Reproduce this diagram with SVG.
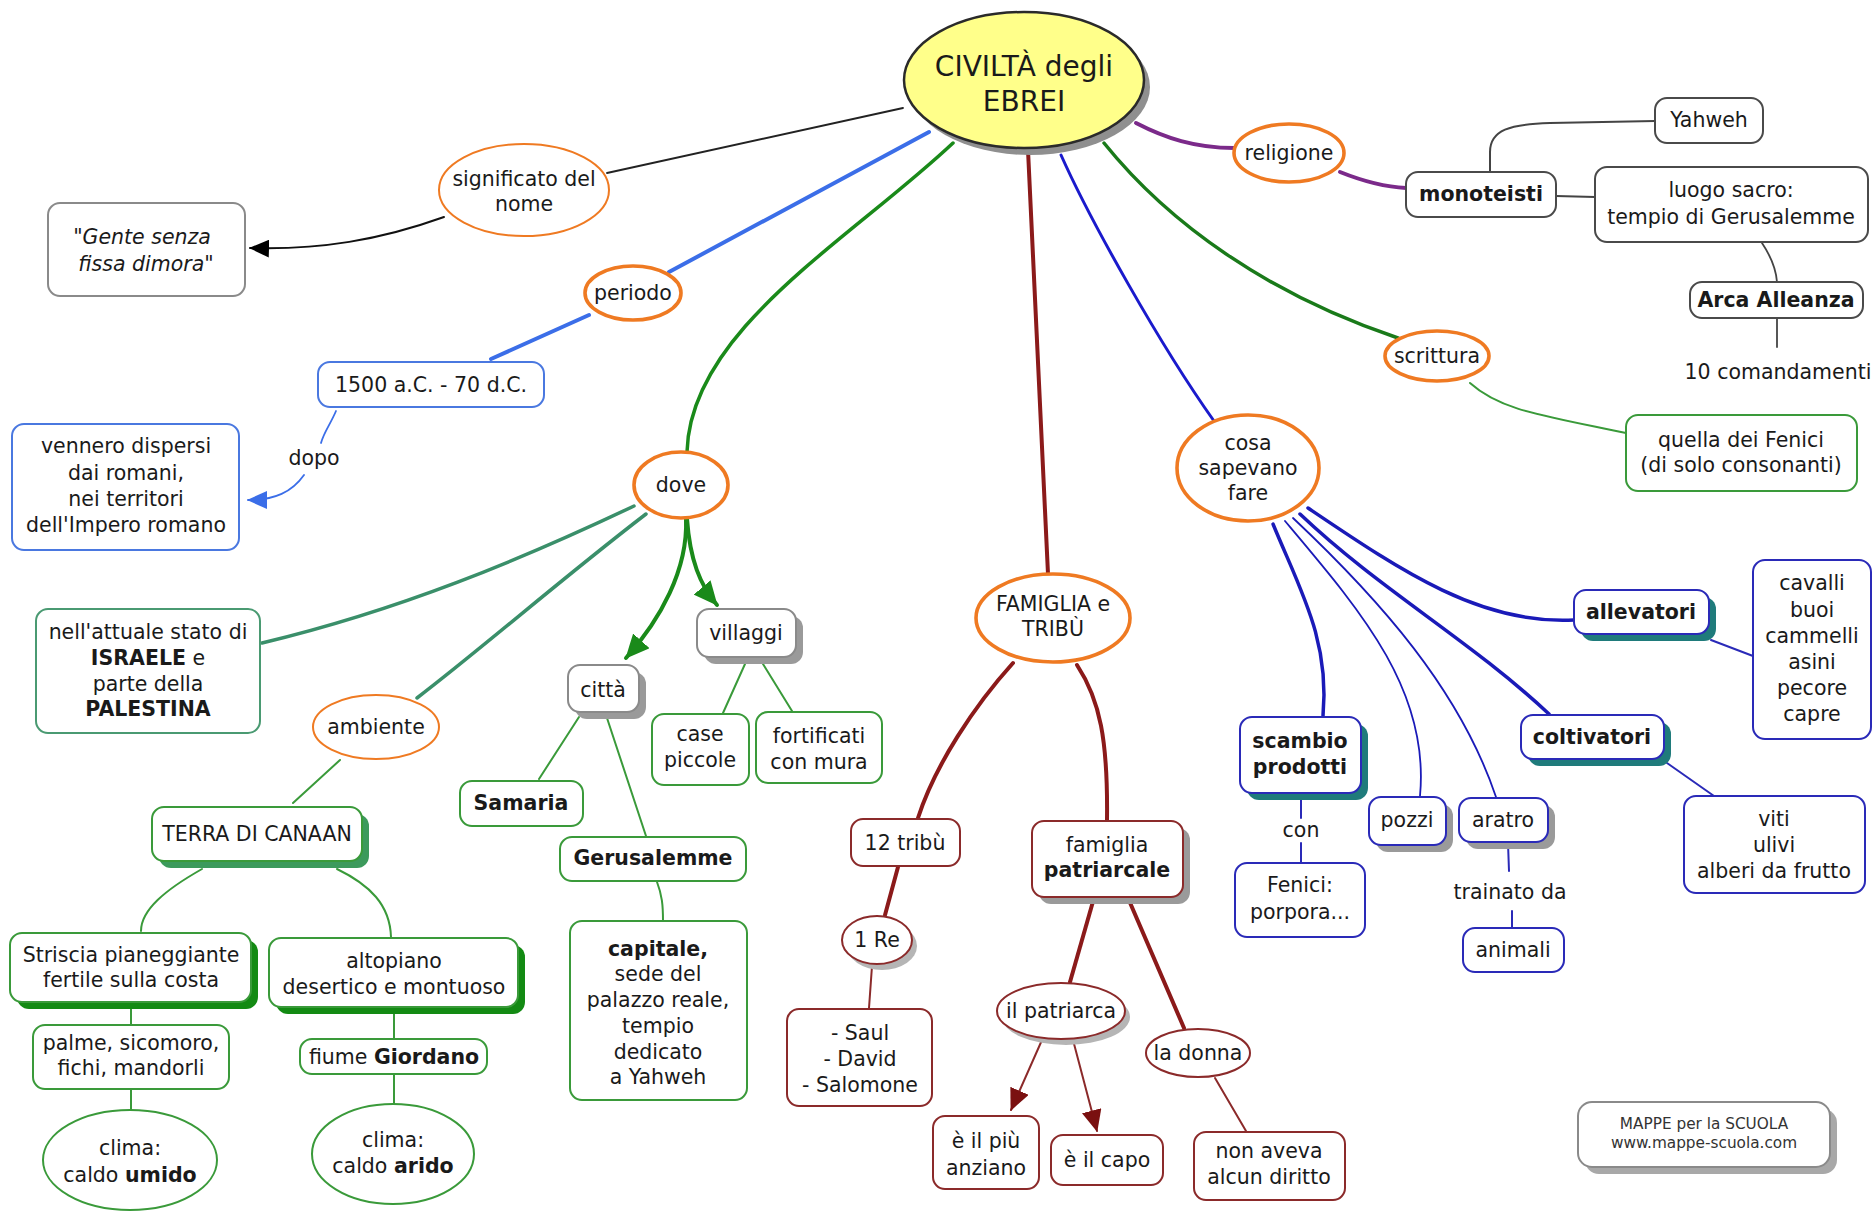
<svg xmlns="http://www.w3.org/2000/svg" width="1875" height="1212" viewBox="0 0 1875 1212">
<defs>
<style>
text{font-family:"DejaVu Sans",Verdana,sans-serif;font-size:20.5px;fill:#1a1a1a;text-anchor:middle}
.b{font-weight:bold}
.i{font-style:italic}
.big{font-size:28px}
.sm{font-size:15.3px;fill:#333}
.oT{fill:#fff;stroke:#ef7a22;stroke-width:3.6}
.ot{fill:#fff;stroke:#ef7a22;stroke-width:2}
.box{fill:#fff;stroke-width:2}
.gr{stroke:#3a9a3a}
.gt{stroke:#4a9a72}
.bl{stroke:#4a78e0}
.db{stroke:#2a2ab8}
.dr{stroke:#8b2a2a}
.gy{stroke:#8a8a8a}
.bk{stroke:#4a4a4a}
.shg{fill:#9a9a9a}
.sht{fill:#1f7b7b}
.shgr{fill:#138a13}
.shsg{fill:#3c9a5c}
.c{fill:none;stroke-linecap:round}
</style>
<marker id="mk" viewBox="0 0 20 18" refX="19" refY="9" markerWidth="20" markerHeight="18" markerUnits="userSpaceOnUse" orient="auto"><path d="M0,0 L20,9 L0,18 z" fill="#000"/></marker>
<marker id="mb" viewBox="0 0 20 18" refX="19" refY="9" markerWidth="20" markerHeight="18" markerUnits="userSpaceOnUse" orient="auto"><path d="M0,0 L20,9 L0,18 z" fill="#3b6ee8"/></marker>
<marker id="mg" viewBox="0 0 24 22" refX="23" refY="11" markerWidth="24" markerHeight="22" markerUnits="userSpaceOnUse" orient="auto"><path d="M0,0 L24,11 L0,22 z" fill="#1a8a1a"/></marker>
<marker id="mr" viewBox="0 0 22 20" refX="21" refY="10" markerWidth="22" markerHeight="20" markerUnits="userSpaceOnUse" orient="auto"><path d="M0,0 L22,10 L0,20 z" fill="#7a1010"/></marker>
</defs>
<rect width="1875" height="1212" fill="#fff"/>

<g id="connectors">
<path class="c" d="M903,108 L607,173" stroke="#222" stroke-width="1.8"/>
<path class="c" d="M444,217 C380,240 320,250 250,248" stroke="#111" stroke-width="2" marker-end="url(#mk)"/>
<path class="c" d="M929,132 L669,272" stroke="#3b6ee8" stroke-width="4"/>
<path class="c" d="M589,315 L491,359" stroke="#3b6ee8" stroke-width="4"/>
<path class="c" d="M336,411 C330,425 324,432 321,443" stroke="#3b6ee8" stroke-width="1.8"/>
<path class="c" d="M304,475 C292,492 275,500 248,500" stroke="#3b6ee8" stroke-width="1.8" marker-end="url(#mb)"/>
<path class="c" d="M953,143 C850,240 690,330 687,452" stroke="#1a8a1a" stroke-width="3.5"/>
<path class="c" d="M634,506 C520,560 400,610 262,643" stroke="#3a8f6a" stroke-width="3.5"/>
<path class="c" d="M646,514 C560,580 480,650 417,698" stroke="#3a8f6a" stroke-width="3.5"/>
<path class="c" d="M340,760 L293,803" stroke="#3a9a3a" stroke-width="2"/>
<path class="c" d="M202,869 C165,890 141,910 141,931" stroke="#3a9a3a" stroke-width="2"/>
<path class="c" d="M337,869 C370,885 390,905 391,937" stroke="#3a9a3a" stroke-width="2"/>
<path class="c" d="M131,1003 L131,1025" stroke="#3a9a3a" stroke-width="2"/>
<path class="c" d="M131,1089 L131,1110" stroke="#3a9a3a" stroke-width="2"/>
<path class="c" d="M394,1008 L394,1039" stroke="#3a9a3a" stroke-width="2"/>
<path class="c" d="M394,1074 L394,1104" stroke="#3a9a3a" stroke-width="2"/>
<path class="c" d="M686,519 C688,570 660,620 626,658" stroke="#1a8a1a" stroke-width="4" marker-end="url(#mg)"/>
<path class="c" d="M687,519 C690,560 700,585 717,605" stroke="#1a8a1a" stroke-width="4" marker-end="url(#mg)"/>
<path class="c" d="M579,717 L539,779" stroke="#3a9a3a" stroke-width="2"/>
<path class="c" d="M607,718 L646,836" stroke="#3a9a3a" stroke-width="2"/>
<path class="c" d="M657,882 C662,895 663,905 663,921" stroke="#3a9a3a" stroke-width="2"/>
<path class="c" d="M745,664 L723,713" stroke="#3a9a3a" stroke-width="2"/>
<path class="c" d="M763,664 L792,711" stroke="#3a9a3a" stroke-width="2"/>
<path class="c" d="M1028,150 L1048,574" stroke="#8b1a1a" stroke-width="4"/>
<path class="c" d="M1013,663 C975,705 935,765 918,818" stroke="#8b1a1a" stroke-width="4"/>
<path class="c" d="M898,867 L885,915" stroke="#8b1a1a" stroke-width="4"/>
<path class="c" d="M872,966 L869,1008" stroke="#8b2a2a" stroke-width="2"/>
<path class="c" d="M1077,665 C1100,700 1108,740 1107,820" stroke="#8b1a1a" stroke-width="4"/>
<path class="c" d="M1094,898 L1070,982" stroke="#8b1a1a" stroke-width="4"/>
<path class="c" d="M1128,898 L1184,1028" stroke="#8b1a1a" stroke-width="4"/>
<path class="c" d="M1042,1040 L1011,1110" stroke="#8b2a2a" stroke-width="2" marker-end="url(#mr)"/>
<path class="c" d="M1073,1040 L1097,1131" stroke="#8b2a2a" stroke-width="2" marker-end="url(#mr)"/>
<path class="c" d="M1215,1078 L1246,1131" stroke="#8b2a2a" stroke-width="2"/>
<path class="c" d="M1136,123 C1165,138 1195,148 1234,148" stroke="#7b2a8a" stroke-width="4"/>
<path class="c" d="M1340,172 C1365,182 1385,187 1406,188" stroke="#7b2a8a" stroke-width="4"/>
<path class="c" d="M1490,172 L1490,152 C1490,130 1510,124 1550,123 L1655,121" stroke="#444" stroke-width="2"/>
<path class="c" d="M1556,196 L1595,197" stroke="#444" stroke-width="2"/>
<path class="c" d="M1762,243 C1770,255 1776,268 1777,282" stroke="#444" stroke-width="1.8"/>
<path class="c" d="M1777,318 L1777,347" stroke="#444" stroke-width="1.8"/>
<path class="c" d="M1104,143 C1170,225 1270,295 1398,338" stroke="#1a7a1a" stroke-width="3.5"/>
<path class="c" d="M1470,383 C1500,410 1540,415 1626,433" stroke="#3a9a3a" stroke-width="2"/>
<path class="c" d="M1061,155 C1090,220 1160,345 1214,421" stroke="#1a1acc" stroke-width="3"/>
<path class="c" d="M1273,524 C1300,590 1330,640 1323,716" stroke="#1a1ab8" stroke-width="3.5"/>
<path class="c" d="M1285,521 C1360,610 1430,690 1420,796" stroke="#1a1ab8" stroke-width="1.8"/>
<path class="c" d="M1293,518 C1380,600 1460,690 1496,797" stroke="#1a1ab8" stroke-width="1.8"/>
<path class="c" d="M1300,514 C1380,590 1470,640 1549,714" stroke="#1a1ab8" stroke-width="3.5"/>
<path class="c" d="M1308,508 C1400,570 1480,625 1574,620" stroke="#1a1ab8" stroke-width="3.5"/>
<path class="c" d="M1711,640 L1753,656" stroke="#2a2ab8" stroke-width="2"/>
<path class="c" d="M1667,763 L1714,796" stroke="#2a2ab8" stroke-width="2"/>
<path class="c" d="M1301,795 L1301,818 M1301,843 L1301,863" stroke="#2a2ab8" stroke-width="2"/>
<path class="c" d="M1508,843 L1509,871 M1512,911 L1512,928" stroke="#2a2ab8" stroke-width="2"/>
</g>

<g id="n-central">
<ellipse cx="1030" cy="87" rx="120" ry="68" fill="#8f8f8f"/>
<ellipse cx="1024" cy="80" rx="120" ry="68" fill="#ffff8a" stroke="#2a2a2a" stroke-width="2.5"/>
<text class="big" x="1024" y="76">CIVILTÀ degli</text>
<text class="big" x="1024" y="111">EBREI</text>
</g>
<g id="n-significato">
<ellipse class="ot" cx="524" cy="190" rx="85" ry="46"/>
<text x="524" y="186">significato del</text>
<text x="524" y="211">nome</text>
</g>
<g id="n-gente">
<rect class="box gy" x="48" y="203" width="197" height="93" rx="12"/>
<text class="i" x="142" y="244">"Gente senza</text>
<text class="i" x="146" y="271">fissa dimora"</text>
</g>
<g id="n-periodo">
<ellipse class="oT" cx="633" cy="293" rx="48" ry="27"/>
<text x="633" y="300">periodo</text>
</g>
<g id="n-1500">
<rect class="box bl" x="318" y="362" width="226" height="45" rx="12"/>
<text x="431" y="392">1500 a.C. - 70 d.C.</text>
</g>
<g id="n-dopo"><text x="314" y="465">dopo</text></g>
<g id="n-vennero">
<rect class="box bl" x="12" y="424" width="227" height="126" rx="12"/>
<text x="126" y="453">vennero dispersi</text>
<text x="126" y="480">dai romani,</text>
<text x="126" y="506">nei territori</text>
<text x="126" y="532">dell'Impero romano</text>
</g>
<g id="n-dove">
<ellipse class="oT" cx="681" cy="485" rx="47" ry="33"/>
<text x="681" y="492">dove</text>
</g>
<g id="n-israele">
<rect class="box gt" x="36" y="609" width="224" height="124" rx="12"/>
<text x="148" y="639">nell'attuale stato di</text>
<text x="148" y="665"><tspan class="b">ISRAELE</tspan> e</text>
<text x="148" y="691">parte della</text>
<text class="b" x="148" y="716">PALESTINA</text>
</g>
<g id="n-ambiente">
<ellipse class="ot" cx="376" cy="727" rx="63" ry="32"/>
<text x="376" y="734">ambiente</text>
</g>
<g id="n-canaan">
<rect class="shsg" x="159" y="814" width="210" height="54" rx="12"/>
<rect class="box gr" x="152" y="807" width="210" height="54" rx="12"/>
<text x="257" y="841">TERRA DI CANAAN</text>
</g>
<g id="n-striscia">
<rect class="shgr" x="17" y="940" width="241" height="69" rx="12"/>
<rect class="box gr" x="10" y="933" width="241" height="69" rx="12"/>
<text x="131" y="962">Striscia pianeggiante</text>
<text x="131" y="987">fertile sulla costa</text>
</g>
<g id="n-altopiano">
<rect class="shgr" x="276" y="945" width="249" height="69" rx="12"/>
<rect class="box gr" x="269" y="938" width="249" height="69" rx="12"/>
<text x="394" y="968">altopiano</text>
<text x="394" y="994">desertico e montuoso</text>
</g>
<g id="n-palme">
<rect class="box gr" x="33" y="1025" width="196" height="64" rx="12"/>
<text x="131" y="1050">palme, sicomoro,</text>
<text x="131" y="1075">fichi, mandorli</text>
</g>
<g id="n-fiume">
<rect class="box gr" x="300" y="1039" width="187" height="35" rx="12"/>
<text x="394" y="1064">fiume <tspan class="b">Giordano</tspan></text>
</g>
<g id="n-umido">
<ellipse class="box gr" cx="130" cy="1160" rx="87" ry="50"/>
<text x="130" y="1155">clima:</text>
<text x="130" y="1182">caldo <tspan class="b">umido</tspan></text>
</g>
<g id="n-arido">
<ellipse class="box gr" cx="393" cy="1154" rx="81" ry="50"/>
<text x="393" y="1147">clima:</text>
<text x="393" y="1173">caldo <tspan class="b">arido</tspan></text>
</g>
<g id="n-citta">
<rect class="shg" x="575" y="672" width="71" height="47" rx="12"/>
<rect class="box gy" x="568" y="665" width="71" height="47" rx="12"/>
<text x="603" y="697">città</text>
</g>
<g id="n-villaggi">
<rect class="shg" x="704" y="616" width="99" height="48" rx="12"/>
<rect class="box gy" x="697" y="609" width="99" height="48" rx="12"/>
<text x="746" y="640">villaggi</text>
</g>
<g id="n-samaria">
<rect class="box gr" x="460" y="781" width="123" height="45" rx="12" stroke-width="2.5"/>
<text class="b" x="521" y="810">Samaria</text>
</g>
<g id="n-gerusalemme">
<rect class="box gr" x="560" y="837" width="186" height="44" rx="12"/>
<text class="b" x="653" y="865">Gerusalemme</text>
</g>
<g id="n-capitale">
<rect class="box gr" x="570" y="921" width="177" height="179" rx="12"/>
<text class="b" x="658" y="956">capitale,</text>
<text x="658" y="981">sede del</text>
<text x="658" y="1007">palazzo reale,</text>
<text x="658" y="1033">tempio</text>
<text x="658" y="1059">dedicato</text>
<text x="658" y="1084">a Yahweh</text>
</g>
<g id="n-case">
<rect class="box gr" x="652" y="714" width="97" height="71" rx="12"/>
<text x="700" y="741">case</text>
<text x="700" y="767">piccole</text>
</g>
<g id="n-fortificati">
<rect class="box gr" x="756" y="712" width="126" height="71" rx="12"/>
<text x="819" y="743">fortificati</text>
<text x="819" y="769">con mura</text>
</g>
<g id="n-famiglia">
<ellipse class="oT" cx="1053" cy="618" rx="77" ry="44"/>
<text x="1053" y="611">FAMIGLIA e</text>
<text x="1053" y="636">TRIBÙ</text>
</g>
<g id="n-12tribu">
<rect class="box dr" x="851" y="819" width="109" height="47" rx="12"/>
<text x="905" y="850">12 tribù</text>
</g>
<g id="n-1re">
<ellipse cx="882" cy="946" rx="35" ry="24" fill="#b5b5b5"/>
<ellipse class="box dr" cx="877" cy="940" rx="35" ry="24"/>
<text x="877" y="947">1 Re</text>
</g>
<g id="n-re">
<rect class="box dr" x="787" y="1009" width="145" height="97" rx="12"/>
<text x="860" y="1040">- Saul</text>
<text x="860" y="1066">- David</text>
<text x="860" y="1092">- Salomone</text>
</g>
<g id="n-patriarcale">
<rect class="shg" x="1039" y="828" width="151" height="76" rx="12"/>
<rect class="box dr" x="1032" y="821" width="151" height="76" rx="12"/>
<text x="1107" y="852">famiglia</text>
<text class="b" x="1107" y="877">patriarcale</text>
</g>
<g id="n-patriarca">
<ellipse cx="1066" cy="1017" rx="64" ry="28" fill="#b5b5b5"/>
<ellipse class="box dr" cx="1061" cy="1011" rx="64" ry="28"/>
<text x="1061" y="1018">il patriarca</text>
</g>
<g id="n-donna">
<ellipse class="box dr" cx="1198" cy="1053" rx="52" ry="24"/>
<text x="1198" y="1060">la donna</text>
</g>
<g id="n-anziano">
<rect class="box dr" x="933" y="1116" width="106" height="73" rx="12"/>
<text x="986" y="1148">è il più</text>
<text x="986" y="1175">anziano</text>
</g>
<g id="n-capo">
<rect class="box dr" x="1051" y="1135" width="112" height="50" rx="12"/>
<text x="1107" y="1167">è il capo</text>
</g>
<g id="n-diritto">
<rect class="box dr" x="1194" y="1132" width="151" height="68" rx="12"/>
<text x="1269" y="1158">non aveva</text>
<text x="1269" y="1184">alcun diritto</text>
</g>
<g id="n-religione">
<ellipse class="oT" cx="1289" cy="153" rx="55" ry="29"/>
<text x="1289" y="160">religione</text>
</g>
<g id="n-monoteisti">
<rect class="box bk" x="1406" y="172" width="150" height="45" rx="12"/>
<text class="b" x="1481" y="201">monoteisti</text>
</g>
<g id="n-yahweh">
<rect class="box bk" x="1655" y="98" width="108" height="45" rx="12"/>
<text x="1709" y="127">Yahweh</text>
</g>
<g id="n-luogo">
<rect class="box bk" x="1595" y="167" width="273" height="75" rx="12"/>
<text x="1731" y="197">luogo sacro:</text>
<text x="1731" y="224">tempio di Gerusalemme</text>
</g>
<g id="n-arca">
<rect class="box bk" x="1690" y="282" width="173" height="36" rx="12"/>
<text class="b" x="1776" y="307">Arca Alleanza</text>
</g>
<g id="n-comandamenti"><text x="1778" y="379">10 comandamenti</text></g>
<g id="n-scrittura">
<ellipse class="oT" cx="1437" cy="356" rx="52" ry="25"/>
<text x="1437" y="363">scrittura</text>
</g>
<g id="n-fenici-scr">
<rect class="box gr" x="1626" y="415" width="231" height="76" rx="12"/>
<text x="1741" y="447">quella dei Fenici</text>
<text x="1741" y="472">(di solo consonanti)</text>
</g>
<g id="n-cosa">
<ellipse class="oT" cx="1248" cy="468" rx="71" ry="53"/>
<text x="1248" y="450">cosa</text>
<text x="1248" y="475">sapevano</text>
<text x="1248" y="500">fare</text>
</g>
<g id="n-allevatori">
<rect class="sht" x="1581" y="597" width="135" height="44" rx="12"/>
<rect class="box db" x="1574" y="590" width="135" height="44" rx="12"/>
<text class="b" x="1641" y="619">allevatori</text>
</g>
<g id="n-animali-lista">
<rect class="box db" x="1753" y="560" width="118" height="179" rx="12"/>
<text x="1812" y="590">cavalli</text>
<text x="1812" y="617">buoi</text>
<text x="1812" y="643">cammelli</text>
<text x="1812" y="669">asini</text>
<text x="1812" y="695">pecore</text>
<text x="1812" y="721">capre</text>
</g>
<g id="n-scambio">
<rect class="sht" x="1247" y="724" width="121" height="76" rx="12"/>
<rect class="box db" x="1240" y="717" width="121" height="76" rx="12"/>
<text class="b" x="1300" y="748">scambio</text>
<text class="b" x="1300" y="774">prodotti</text>
</g>
<g id="n-con"><text x="1301" y="837">con</text></g>
<g id="n-porpora">
<rect class="box db" x="1235" y="863" width="130" height="74" rx="12"/>
<text x="1300" y="892">Fenici:</text>
<text x="1300" y="919">porpora...</text>
</g>
<g id="n-pozzi">
<rect class="shg" x="1376" y="804" width="77" height="48" rx="12"/>
<rect class="box db" x="1369" y="797" width="77" height="48" rx="12"/>
<text x="1407" y="827">pozzi</text>
</g>
<g id="n-aratro">
<rect class="shg" x="1466" y="805" width="89" height="44" rx="12"/>
<rect class="box db" x="1459" y="798" width="89" height="44" rx="12"/>
<text x="1503" y="827">aratro</text>
</g>
<g id="n-trainato"><text x="1510" y="899">trainato da</text></g>
<g id="n-animali">
<rect class="box db" x="1463" y="928" width="101" height="44" rx="12"/>
<text x="1513" y="957">animali</text>
</g>
<g id="n-coltivatori">
<rect class="sht" x="1528" y="722" width="143" height="44" rx="12"/>
<rect class="box db" x="1521" y="715" width="143" height="44" rx="12"/>
<text class="b" x="1592" y="744">coltivatori</text>
</g>
<g id="n-viti">
<rect class="box db" x="1684" y="796" width="181" height="97" rx="12"/>
<text x="1774" y="826">viti</text>
<text x="1774" y="852">ulivi</text>
<text x="1774" y="878">alberi da frutto</text>
</g>
<g id="n-mappe">
<rect x="1585" y="1109" width="252" height="65" rx="14" fill="#a8a8a8"/>
<rect class="box gy" x="1578" y="1102" width="252" height="65" rx="14"/>
<text class="sm" x="1704" y="1129">MAPPE per la SCUOLA</text>
<text class="sm" x="1704" y="1148">www.mappe-scuola.com</text>
</g>
</svg>
